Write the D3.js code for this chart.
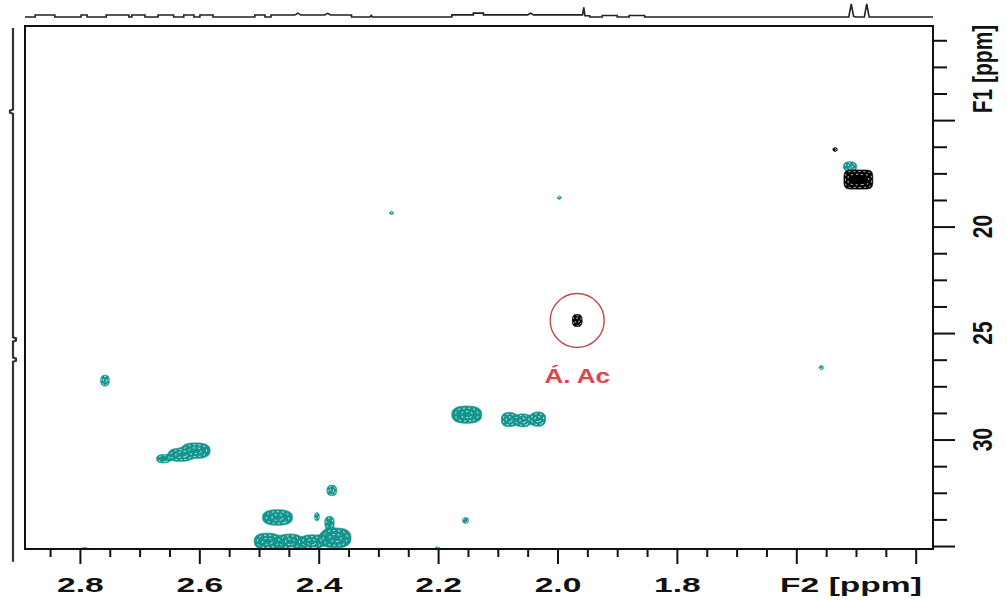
<!DOCTYPE html>
<html><head><meta charset="utf-8">
<script src="https://cdn.jsdelivr.net/npm/d3@7"></script>
<style>
html,body{margin:0;padding:0;background:#fff;}
svg{display:block;}
.lbl{font-family:"Liberation Sans",Arial,sans-serif;font-weight:bold;font-size:21px;fill:#111;}
</style></head><body>
<svg id="c" width="1007" height="600"></svg>
<script>
// Spectral windows (ppm): F2 = 1H, F1 = 13C
const f2Domain = [2.892, 1.371];
const f1Domain = [10.58, 35.14];

// Axis ticks
const f2Major = [2.8, 2.6, 2.4, 2.2, 2.0, 1.8, 1.6, 1.4];
const f2Labels = ["2.8", "2.6", "2.4", "2.2", "2.0", "1.8"];
const f1Major = [15, 20, 25, 30, 35];
const f1Labels = ["20", "25", "30"];

// Cross peaks: position (ppm), half-extent of lowest contour (ppm), amplitude, lineshape order, phase
const peakF2   = [2.758, 2.278, 1.997, 1.558, 2.606, 2.632, 2.660, 2.378, 2.469, 2.403, 2.486, 2.448, 2.412, 2.372, 2.382, 2.152, 2.081, 2.058, 2.033, 2.154, 2.792, 2.201, 1.510, 1.506, 1.486, 1.535, 1.967];
const peakF1   = [27.23, 19.36, 18.64, 26.62, 30.52, 30.72, 30.90, 32.39, 33.66, 33.62, 34.78, 34.80, 34.82, 34.62, 33.90, 28.83, 29.06, 29.10, 29.04, 33.80, 35.27, 35.20, 17.18, 17.79, 17.79, 16.38, 24.41];
const peakHwF2 = [0.007, 0.004, 0.004, 0.004, 0.024, 0.020, 0.012, 0.008, 0.025, 0.004, 0.022, 0.020, 0.018, 0.026, 0.008, 0.025, 0.013, 0.013, 0.013, 0.005, 0.006, 0.005, 0.011, 0.014, 0.014, 0.004, 0.008];
const peakHwF1 = [0.25, 0.07, 0.07, 0.10, 0.36, 0.30, 0.20, 0.24, 0.36, 0.20, 0.38, 0.36, 0.34, 0.46, 0.30, 0.40, 0.33, 0.30, 0.33, 0.14, 0.20, 0.15, 0.22, 0.44, 0.44, 0.10, 0.28];
const peakAmp  = [1, 0.5, 0.5, 0.6, 1, 1, 0.8, 1, 1, 0.7, 1, 1, 1, 1, 0.8, 1, 1, 1, 1, 0.8, 1, 1, 1, 1, 1, 0.6, 1];
const peakOrder= [2.6, 2, 2, 2, 2.6, 2.6, 2.6, 2.6, 2.6, 2.6, 2.6, 2.6, 2.6, 2.6, 2.6, 2.6, 2.6, 2.6, 2.6, 2.4, 2.6, 2.6, 2.6, 4, 4, 2, 3];
const peakSign = [1, 1, 1, 1, 1, 1, 1, 1, 1, 1, 1, 1, 1, 1, 1, 1, 1, 1, 1, 1, 1, 1, 1, -1, -1, -1, -1];

// 1D projection along F2 (top trace)
const projF2Ppm = [2.892, 2.875, 2.875, 2.842, 2.842, 2.798, 2.798, 2.788, 2.788, 2.756, 2.756, 2.718, 2.718, 2.713, 2.713, 2.691, 2.691, 2.669, 2.669, 2.643, 2.643, 2.626, 2.626, 2.609, 2.609, 2.599, 2.599, 2.577, 2.577, 2.507, 2.507, 2.490, 2.490, 2.480, 2.480, 2.44, 2.435, 2.43, 2.39, 2.385, 2.38, 2.345, 2.345, 2.314, 2.312, 2.310, 2.177, 2.177, 2.141, 2.141, 2.124, 2.124, 2.05, 2.045, 2.04, 1.962, 1.958, 1.956, 1.954, 1.946, 1.946, 1.925, 1.925, 1.90, 1.90, 1.88, 1.88, 1.854, 1.854, 1.512, 1.508, 1.504, 1.500, 1.486, 1.482, 1.478, 1.371];
const projF2Int = [0, 0, 0.15, 0.15, 0, 0, 0.15, 0.15, 0, 0, 0.15, 0.15, 0, 0, 0.15, 0.15, 0, 0, 0.15, 0.15, 0, 0, 0.15, 0.15, 0, 0, 0.15, 0.15, 0, 0, 0.15, 0.15, 0, 0, 0.15, 0.15, 0.3, 0.15, 0.15, 0.28, 0.15, 0.15, 0, 0, 0.12, 0, 0, 0.16, 0.16, 0.3, 0.3, 0.16, 0.16, 0.3, 0.16, 0.16, 0.16, 0.75, 0.1, 0.1, 0, 0, 0.12, 0.12, 0, 0, 0.12, 0.12, 0, 0, 1.0, 0.05, 0, 0, 1.0, 0, 0];

// 1D projection along F1 (left trace)
const projF1Ppm = [10.67, 14.5, 14.55, 14.65, 14.7, 25.2, 25.25, 25.35, 25.4, 26.15, 26.2, 26.3, 26.35, 35.74];
const projF1Int = [0, 0, 1, 1, 0, 0, -1, -1, 0, 0, -1, -1, 0, 0];

// Assignment marker
const markF2 = 1.967, markF1 = 24.41, markText = "Á. Ac";

const frame = {left: 25, right: 933, top: 26, bottom: 549};
const svg = d3.select("#c");
const x = d3.scaleLinear().domain(f2Domain).range([frame.left, frame.right]);
const y = d3.scaleLinear().domain(f1Domain).range([frame.top, frame.bottom]);

const TEAL = "#14968f";
const LOW = 0.11;

svg.append("defs").append("clipPath").attr("id", "plotClip")
  .append("rect").attr("x", frame.left).attr("y", frame.top)
  .attr("width", frame.right - frame.left).attr("height", frame.bottom - frame.top);

// ---- contour field on a 1 px grid ----
const nx = frame.right - frame.left, ny = frame.bottom - frame.top;
function field(sign) {
  const g = new Float64Array(nx * ny);
  peakF2.forEach((f2, k) => {
    if (peakSign[k] !== sign) return;
    const p = peakOrder[k];
    const reach = Math.pow(2 * Math.log(peakAmp[k] / LOW > 1 ? 1 / LOW : 1 / LOW), 1 / p);
    const cx = x(f2) - frame.left, cy = y(peakF1[k]) - frame.top;
    const sx = Math.max(0.8, Math.abs(x(f2 + peakHwF2[k]) - x(f2)) / reach);
    const sy = Math.max(0.8, Math.abs(y(peakF1[k] + peakHwF1[k]) - y(peakF1[k])) / reach);
    const i0 = Math.max(0, Math.floor(cx - 4 * sx)), i1 = Math.min(nx - 1, Math.ceil(cx + 4 * sx));
    const j0 = Math.max(0, Math.floor(cy - 4 * sy)), j1 = Math.min(ny - 1, Math.ceil(cy + 4 * sy));
    for (let j = j0; j <= j1; j++) {
      const dy = Math.abs(j + 0.5 - cy) / sy;
      for (let i = i0; i <= i1; i++) {
        const dx = Math.abs(i + 0.5 - cx) / sx;
        g[j * nx + i] += peakAmp[k] * Math.exp(-0.5 * (Math.pow(dx, p) + Math.pow(dy, p)));
      }
    }
  });
  return g;
}

const levels = [LOW, 0.35, 0.6, 0.85];
const path = d3.geoPath();
const plot = svg.append("g").attr("clip-path", "url(#plotClip)")
  .append("g").attr("transform", `translate(${frame.left},${frame.top})`);

function drawContours(sign, color) {
  const cs = d3.contours().size([nx, ny]).thresholds(levels)(field(sign));
  cs.forEach((c, i) => {
    const p = plot.append("path").attr("d", path(c));
    if (i % 2 === 0) p.attr("fill", color).attr("stroke", color).attr("stroke-width", 0.8);
    else p.attr("fill", "none").attr("stroke", "#fff").attr("stroke-width", 0.9).attr("stroke-dasharray", "2,3");
  });
}
drawContours(1, TEAL);
drawContours(-1, "#000");

// ---- frame ----
svg.append("rect").attr("x", frame.left).attr("y", frame.top)
  .attr("width", frame.right - frame.left).attr("height", frame.bottom - frame.top)
  .attr("fill", "none").attr("stroke", "#111").attr("stroke-width", 2);

// ---- bottom axis (F2) ----
const f2Minor = d3.range(2.85, 1.39, -0.05).filter(v => !f2Major.some(m => Math.abs(m - v) < 1e-6));
svg.append("g").attr("transform", `translate(0,${frame.bottom})`)
  .call(d3.axisBottom(x).tickValues(f2Minor).tickSize(8).tickFormat(""))
  .call(g => g.select(".domain").remove())
  .call(g => g.selectAll("line").attr("stroke", "#111").attr("stroke-width", 2));
svg.append("g").attr("transform", `translate(0,${frame.bottom})`)
  .call(d3.axisBottom(x).tickValues(f2Major).tickSize(15)
    .tickFormat((d, i) => f2Labels[i] || ""))
  .call(g => g.select(".domain").remove())
  .call(g => g.selectAll("line").attr("stroke", "#111").attr("stroke-width", 2))
  .call(g => g.selectAll("text").attr("class", "lbl").attr("y", null).attr("dy", null)
    .attr("font-size", null).attr("font-family", null).attr("fill", null)
    .attr("transform", "translate(0,43) scale(1.6,1)"));
svg.append("text").attr("class", "lbl").attr("text-anchor", "middle")
  .attr("transform", `translate(851,592) scale(1.6,1)`).text("F2 [ppm]");

// ---- right axis (F1) ----
const f1Minor = d3.range(11.25, 35.01, 1.25).filter(v => !f1Major.some(m => Math.abs(m - v) < 1e-6));
svg.append("g").attr("transform", `translate(${frame.right},0)`)
  .call(d3.axisRight(y).tickValues(f1Minor).tickSize(14).tickFormat(""))
  .call(g => g.select(".domain").remove())
  .call(g => g.selectAll("line").attr("stroke", "#111").attr("stroke-width", 2));
svg.append("g").attr("transform", `translate(${frame.right},0)`)
  .call(d3.axisRight(y).tickValues(f1Major).tickSize(22).tickFormat(""))
  .call(g => g.select(".domain").remove())
  .call(g => g.selectAll("line").attr("stroke", "#111").attr("stroke-width", 2));
f1Labels.forEach(t => {
  svg.append("text").attr("class", "lbl").attr("text-anchor", "middle")
    .attr("transform", `translate(992,${y(+t)}) scale(1.3,1) rotate(-90)`).text(t);
});
svg.append("text").attr("class", "lbl").attr("text-anchor", "middle")
  .attr("transform", `translate(992,${y(12.6)}) scale(1.3,1) rotate(-90)`).text("F1 [ppm]");

// ---- projections ----
const projTop = d3.scaleLinear().domain([0, 1]).range([17, 4]);
svg.append("path")
  .attr("d", d3.line().x(d => x(d[0])).y(d => projTop(d[1]))(projF2Ppm.map((p, i) => [p, projF2Int[i]])))
  .attr("fill", "none").attr("stroke", "#222").attr("stroke-width", 1.6);

const projLeft = d3.scaleLinear().domain([-1, 1]).range([16, 10]);
svg.append("path")
  .attr("d", d3.line().x(d => projLeft(d[1])).y(d => y(d[0]))(projF1Ppm.map((p, i) => [p, projF1Int[i]])))
  .attr("fill", "none").attr("stroke", "#333").attr("stroke-width", 2.2);

// ---- assignment marker ----
svg.append("circle").attr("cx", x(markF2)).attr("cy", y(markF1)).attr("r", 27)
  .attr("fill", "none").attr("stroke", "#c3474d").attr("stroke-width", 1.4);
svg.append("text").attr("text-anchor", "middle")
  .attr("transform", `translate(${x(markF2)},${y(markF1) + 62}) scale(1.3,1)`)
  .style("font-family", "'Liberation Sans',Arial,sans-serif").style("font-weight", "bold")
  .style("font-size", "20px").style("fill", "#e2434f").text(markText);
</script>
</body></html>
